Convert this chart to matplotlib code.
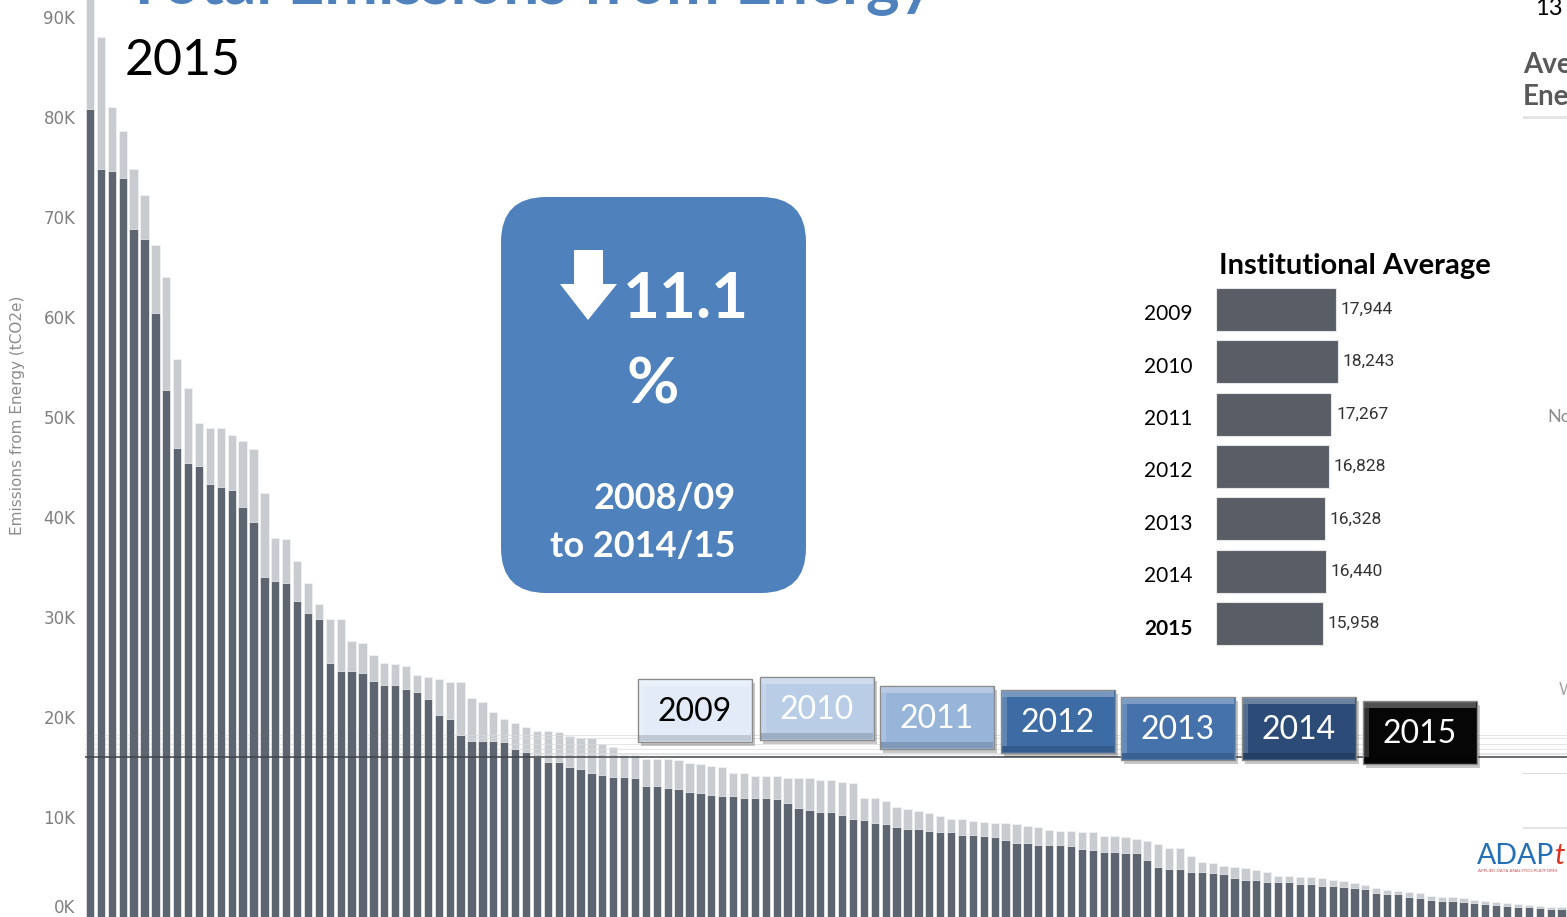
import numpy as np
import matplotlib
matplotlib.use('Agg')
import matplotlib.pyplot as plt
from matplotlib.patches import FancyBboxPatch, Rectangle, Polygon
from matplotlib.transforms import IdentityTransform

W, H = 1567, 917

# 2015 emissions per institution (tCO2e), sorted
emissions_2015 = [
    80800, 74800, 74600, 73900, 68800, 67800, 60400, 52700, 46900, 45400,
    45100, 43300, 43000, 42700, 41000, 39500, 34000, 33600, 33400, 31600,
    30400, 29800, 25400, 24600, 24600, 24400, 23600, 23200, 23200, 22800,
    22500, 21800, 20200, 19800, 18200, 17600, 17600, 17600, 17500, 16800,
    16500, 16000, 15500, 15500, 15000, 14800, 14400, 14200, 14000, 14000,
    13900, 13100, 13100, 12900, 12800, 12500, 12400, 12200, 12100, 12100,
    11900, 11900, 11900, 11800, 11400, 10900, 10700, 10500, 10500, 10200,
    9800, 9700, 9400, 9300, 9000, 8800, 8800, 8600, 8500, 8500,
    8200, 8200, 8100, 8000, 7700, 7400, 7400, 7200, 7200, 7200,
    7100, 6800, 6700, 6500, 6500, 6400, 6400, 5700, 5000, 4800,
    4800, 4500, 4500, 4400, 4300, 3900, 3700, 3700, 3500, 3500,
    3500, 3300, 3300, 3100, 3100, 3000, 2900, 2800, 2400, 2300,
    2300, 2000, 1900, 1700, 1600, 1600, 1500, 1400, 1300, 1200,
    1100, 1000, 1000, 900, 800, 800,
]
# highest value of the earlier years (2009-2014), the pale part of each bar
prior_max = [
    94000, 88000, 81000, 78600, 74800, 72200, 67200, 64000, 55800, 52900,
    49400, 48900, 48900, 48200, 47600, 46800, 42400, 37900, 37800, 35600,
    33400, 31300, 29800, 29800, 27600, 27400, 26200, 25400, 25300, 25100,
    24200, 24000, 23800, 23500, 23500, 21900, 21500, 20500, 19800, 19400,
    19000, 18600, 18600, 18500, 18100, 17900, 17900, 17300, 17000, 16200,
    16200, 15800, 15800, 15800, 15700, 15400, 15300, 15100, 15000, 14400,
    14400, 14100, 14100, 14100, 13900, 13900, 13900, 13700, 13700, 13500,
    13400, 11900, 11900, 11600, 11000, 10800, 10600, 10400, 10100, 9800,
    9800, 9600, 9500, 9400, 9400, 9300, 9100, 9000, 8700, 8600,
    8600, 8500, 8500, 8100, 8100, 8000, 7800, 7600, 7300, 6900,
    6900, 6100, 5500, 5400, 5100, 5000, 4900, 4700, 4500, 4100,
    4100, 4000, 4000, 3900, 3700, 3600, 3400, 3200, 2900, 2700,
    2600, 2500, 2400, 2100, 2000, 2000, 1900, 1700, 1600, 1500,
    1400, 1300, 1200, 1100, 1000, 1000,
]

years = ['2009', '2010', '2011', '2012', '2013', '2014', '2015']
inst_avg = [17944, 18243, 17267, 16828, 16328, 16440, 15958]

box_faces = ['#E2EBF7', '#B9CDE6', '#97B4D9', '#3D6BA4', '#4572AB', '#2C4C77', '#060606']
box_text = ['black', 'white', 'white', 'white', 'white', 'white', 'white']
box_lefts = [638, 760, 880, 1001, 1121, 1242, 1363]
box_tops = [679, 677, 686, 690, 697, 697, 701]

plt.rcParams['font.family'] = ['Lato', 'DejaVu Sans']
pix = IdentityTransform()


def py(y):
    # picture rows are counted from the top
    return H - y


fig = plt.figure(figsize=(W / 100, H / 100), dpi=100)

# main bar chart
ax = fig.add_axes([85 / W, 0, 1 - 85 / W, 1])
idx = np.arange(len(emissions_2015))
ax.bar(idx, prior_max, width=0.76, color='#C8CCD1', edgecolor='#F2F3F4', linewidth=0.5, zorder=2)
for v in inst_avg[:-1]:
    ax.axhline(v, color='#DADADA', lw=0.7, alpha=0.7, zorder=2.5)
ax.bar(idx, emissions_2015, width=0.76, color='#5D6670', edgecolor='#F2F3F4', linewidth=0.5, zorder=3)
ax.axhline(inst_avg[-1], color='#3F444A', lw=1.1, zorder=4)
ax.set_xlim(-0.46, 135.5)
ax.set_ylim(0, 91700)
ticks = np.arange(0, 90001, 10000)
ax.set_yticks(ticks, [f'{t // 1000}K' for t in ticks])
ax.get_yticklabels()[0].set_va('bottom')
ax.tick_params(axis='y', length=0, pad=7, labelsize=12, labelcolor='#808080', labelfontfamily='DejaVu Sans')
ax.set_xticks([])
for s in ax.spines.values():
    s.set_visible(False)
ax.patch.set_alpha(0)

fig.text(18, py(415), 'Emissions from Energy (tCO2e)', transform=pix, rotation=90,
         ha='center', va='center', fontsize=11, color='#8C8C8C', family='DejaVu Sans')

# titles
fig.text(125, py(3), 'Total Emissions from Energy', transform=pix, fontsize=46,
         weight='bold', color='#4F81BD', va='baseline')
fig.text(125, py(75), '2015', transform=pix, fontsize=36, color='black', va='baseline')

# blue callout
fig.add_artist(FancyBboxPatch((501, py(593)), 305, 396, boxstyle='round,pad=0,rounding_size=45',
                              transform=pix, facecolor='#4F81BD', edgecolor='none'))
arrow = [(574, 250), (603, 250), (603, 284), (617, 284), (588, 320), (560, 284), (574, 284)]
fig.add_artist(Polygon([(x, py(y)) for x, y in arrow], closed=True, transform=pix,
                       facecolor='white', edgecolor='none'))
fig.text(623, py(318), '11.1', transform=pix, fontsize=46, weight='bold', color='white', va='baseline')
fig.text(653, py(403), '%', transform=pix, fontsize=46, weight='bold', color='white',
         va='baseline', ha='center')
fig.text(736, py(509), '2008/09', transform=pix, fontsize=26, weight='bold', color='white',
         va='baseline', ha='right')
fig.text(736, py(557), 'to 2014/15', transform=pix, fontsize=26, weight='bold', color='white',
         va='baseline', ha='right')

# institutional average inset
ax2 = fig.add_axes([1216 / W, py(650) / H, 300 / W, 367 / H])
ypos = np.arange(len(inst_avg))
ax2.barh(ypos, inst_avg, height=0.82, color='#595E66', edgecolor='#E6E6E6', linewidth=0.8)
ax2.set_xlim(0, 300 / (120 / 17944))
ax2.set_ylim(6.5, -0.5)
ax2.axis('off')
for i, v in enumerate(inst_avg):
    ax2.annotate(f'{v:,}', (v, i), xytext=(3.5, 0), textcoords='offset points',
                 ha='left', va='center', fontsize=12.5, color='#333333', family='Roboto')
    ax2.annotate(years[i], (0, i), xytext=(-17, -3.5), textcoords='offset points',
                 ha='right', va='center', fontsize=15, color='black',
                 weight='bold' if years[i] == '2015' else 'normal')
fig.text(1219, py(274), 'Institutional Average', transform=pix, fontsize=21,
         weight='bold', color='black', va='baseline')

# year selector boxes
bw, bh = 114, 63
for yr, face, tc, left, top in zip(years, box_faces, box_text, box_lefts, box_tops):
    b = py(top + bh)
    fig.add_artist(Rectangle((left + 3, b - 4), bw, bh, transform=pix, facecolor='black',
                             alpha=0.22, edgecolor='none'))
    fig.add_artist(Rectangle((left, b), bw, bh, transform=pix, facecolor=face,
                             edgecolor='#8A8A8A', linewidth=1))
    fig.add_artist(Rectangle((left + 1, b + bh - 7), bw - 2, 6, transform=pix,
                             facecolor='white', alpha=0.3, edgecolor='none'))
    fig.add_artist(Rectangle((left + 1, b + 1), bw - 2, 6, transform=pix,
                             facecolor='black', alpha=0.15, edgecolor='none'))
    fig.add_artist(Rectangle((left + 1, b + 7), 5, bh - 14, transform=pix,
                             facecolor='white', alpha=0.18, edgecolor='none'))
    fig.text(left + bw / 2, py(top + 33), yr, transform=pix, fontsize=23, color=tc,
             ha='center', va='center')

# fragments of the neighbouring slide panel at the right edge
fig.text(1535, py(15), '13', transform=pix, fontsize=17, color='black', va='baseline')
fig.text(1523, py(73), 'Ave', transform=pix, fontsize=20, weight='bold', color='#595959', va='baseline')
fig.text(1523, py(105), 'Ene', transform=pix, fontsize=20, weight='bold', color='#595959', va='baseline')
fig.add_artist(Rectangle((1523, py(119)), 44, 3, transform=pix, facecolor='#E4E4E4', edgecolor='none'))
fig.text(1547, py(417), 'No', transform=pix, fontsize=13, color='#8C8C8C', va='center')
fig.text(1559, py(690), 'W', transform=pix, fontsize=12, color='#A6A6A6', va='center')
fig.add_artist(Rectangle((1523, py(774)), 44, 1.5, transform=pix, facecolor='#DDDDDD', edgecolor='none'))
fig.add_artist(Rectangle((1523, py(829)), 44, 2, transform=pix, facecolor='#E4E4E4', edgecolor='none'))
fig.text(1477, py(864), 'ADAP', transform=pix, fontsize=20.5, color='#2470B8', va='baseline')
fig.text(1555, py(864), 't', transform=pix, fontsize=21, color='#E0301E', va='baseline', style='italic')
fig.text(1478, py(871), 'APPLIED DATA ANALYTICS PLATFORM', transform=pix, fontsize=3.2,
         color='#C05050', va='center')

fig.savefig('out.png', dpi=100)
